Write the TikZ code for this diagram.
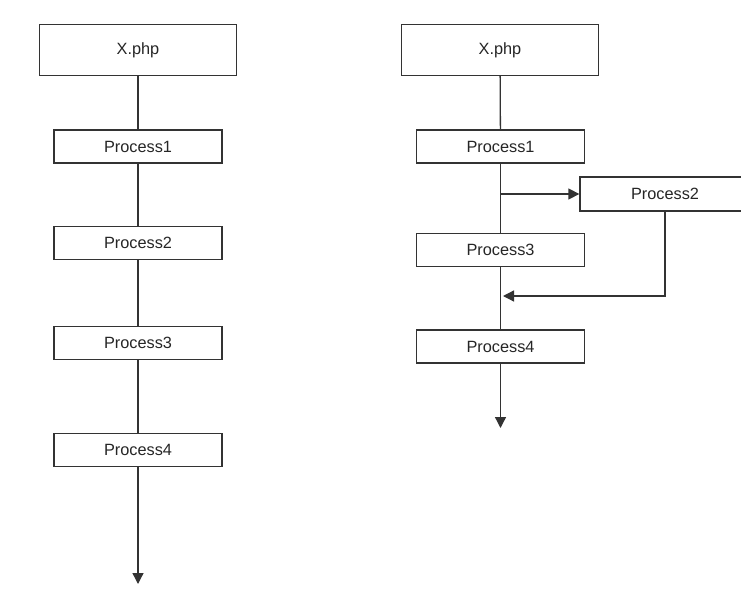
\documentclass[tikz,border=0pt]{standalone}
\usepackage{fontspec}
\setmainfont{Liberation Sans}
\usetikzlibrary{arrows.meta}
\begin{document}
\begin{tikzpicture}[x=1pt,y=-1pt,
  box/.style={draw=black!80,line width=1.3pt,fill=white,inner sep=0pt,font=\fontsize{16.3}{19}\selectfont,text=black!85},
  topbox/.style={box,minimum width=197pt,minimum height=51pt},
  procbox/.style={box,minimum width=168pt,minimum height=33pt},
  conn/.style={draw=black!80,line width=1.3pt},
  arr/.style={conn,-{Triangle[length=11pt,width=11pt]}}]
\useasboundingbox (0,0) rectangle (741,594);
\clip (0,0) rectangle (741,594);
% left column
\node[topbox] (L0) at (138,50) {X.php};
\node[procbox] (L1) at (138,146.5) {Process1};
\node[procbox] (L2) at (138,243) {Process2};
\node[procbox] (L3) at (138,343) {Process3};
\node[procbox] (L4) at (138,450) {Process4};
\coordinate (Lend) at (138,584);
\draw[conn] (L0) -- (L1);
\draw[conn] (L1) -- (L2);
\draw[conn] (L2) -- (L3);
\draw[conn] (L3) -- (L4);
\draw[arr] (L4) -- (Lend);
% right column
\node[topbox] (R0) at (500,50) {X.php};
\node[procbox] (R1) at (500.5,146.5) {Process1};
\node[procbox,minimum width=170pt,minimum height=34pt] (R2) at (665,194) {Process2};
\node[procbox] (R3) at (500.5,250) {Process3};
\node[procbox] (R4) at (500.5,346.5) {Process4};
\coordinate (Rbr) at (500.5,194);
\coordinate (Rret) at (665,296);
\coordinate (Rin) at (503,296);
\coordinate (Rend) at (500.5,428);
\draw[conn] (R0) -- (R1);
\draw[conn] (R1) -- (R3);
\draw[conn] (R3) -- (R4);
\draw[arr] (Rbr) -- (R2.west);
\draw[arr] (R2.south) -- (Rret) -- (Rin);
\draw[arr] (R4) -- (Rend);
\end{tikzpicture}
\end{document}
